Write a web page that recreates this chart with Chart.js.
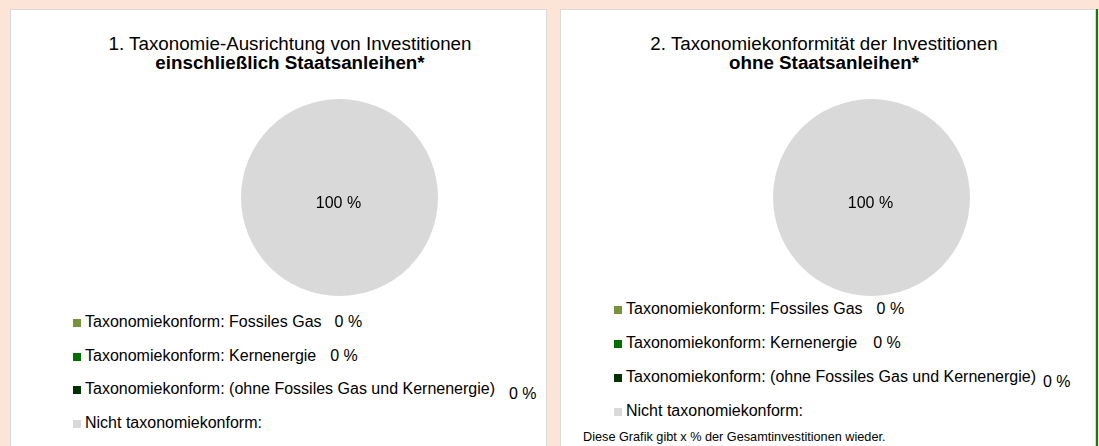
<!DOCTYPE html>
<html>
<head>
<meta charset="utf-8">
<script src="https://cdn.jsdelivr.net/npm/chart.js@4"></script>
<style>
  body { margin: 0; width: 1099px; height: 446px; background: #fce4d6; overflow: hidden; position: relative; font-family: "Liberation Sans", Arial, sans-serif; color: #000; }
  .panel { position: absolute; top: 9px; height: 460px; background: #fff; border: 1px solid #d9d9d9; }
  .title { position: absolute; width: 440px; text-align: center; font-size: 18.8px; line-height: 19px; }
  .title b { font-weight: bold; }
  .pie { position: absolute; width: 197px; height: 197px; }
  .row { position: absolute; font-size: 16px; line-height: 20px; white-space: nowrap; }
  .box { display: inline-block; width: 8px; height: 8px; margin-right: 4px; vertical-align: 0px; }
  .val { display: inline-block; }
  .note { position: absolute; font-size: 12.7px; line-height: 14px; white-space: nowrap; }
  .edge { position: absolute; left: 1096px; top: 9px; width: 2px; height: 440px; background: #137a13; }
</style>
</head>
<body>
<div class="panel" style="left:10px; width:535px;"></div>
<div class="panel" style="left:560px; width:534px;"></div>
<div class="edge"></div>

<div class="title" style="left:70px; top:34px;">1. Taxonomie-Ausrichtung von Investitionen<br><b>einschließlich Staatsanleihen*</b></div>
<div class="title" style="left:604px; top:34px;">2. Taxonomiekonformität der Investitionen<br><b>ohne Staatsanleihen*</b></div>

<canvas id="pie1" class="pie" style="left:241px; top:99px;"></canvas>
<canvas id="pie2" class="pie" style="left:773px; top:99px;"></canvas>

<div id="legend1"></div>
<div id="legend2"></div>

<div class="note" style="left:583px; top:430px;">Diese Grafik gibt x % der Gesamtinvestitionen wieder.</div>

<script>
const categories = [
  'Taxonomiekonform: Fossiles Gas',
  'Taxonomiekonform: Kernenergie',
  'Taxonomiekonform: (ohne Fossiles Gas und Kernenergie)',
  'Nicht taxonomiekonform:'
];
const withSovereigns = [0, 0, 0, 100];
const withoutSovereigns = [0, 0, 0, 100];
// the last category has no value printed in the legend
const legendShowsValue = [true, true, true, false];
const colors = ['#77933c', '#007000', '#003300', '#d9d9d9'];

function pct(v) {
  return v + ' %';
}

// writes the value into the middle of each visible slice
const sliceLabels = {
  id: 'sliceLabels',
  afterDatasetsDraw(chart) {
    const ctx = chart.ctx;
    const meta = chart.getDatasetMeta(0);
    const data = chart.data.datasets[0].data;
    ctx.save();
    ctx.font = '16px "Liberation Sans", Arial, sans-serif';
    ctx.fillStyle = '#000';
    ctx.textAlign = 'center';
    ctx.textBaseline = 'middle';
    meta.data.forEach((arc, i) => {
      if (!data[i]) return;
      let pos;
      if (arc.circumference >= Math.PI * 2 - 0.001) {
        pos = { x: arc.x, y: arc.y };
      } else {
        pos = arc.tooltipPosition();
      }
      ctx.fillText(pct(data[i]), pos.x - 1, pos.y + 6);
    });
    ctx.restore();
  }
};

function makePie(id, values) {
  return new Chart(document.getElementById(id), {
    type: 'pie',
    data: {
      labels: categories,
      datasets: [{
        data: values,
        backgroundColor: colors,
        borderWidth: 0
      }]
    },
    options: {
      responsive: false,
      animation: false,
      layout: { padding: 0 },
      plugins: {
        legend: { display: false },
        tooltip: { enabled: false }
      }
    },
    plugins: [sliceLabels]
  });
}

function makeLegend(id, values, left, top, rowGap, gaps) {
  const holder = document.getElementById(id);
  categories.forEach((name, i) => {
    const row = document.createElement('div');
    row.className = 'row';
    row.style.left = left + 'px';
    row.style.top = (top + i * rowGap) + 'px';
    let html = `<span class="box" style="background:${colors[i]}"></span>${name}`;
    if (legendShowsValue[i]) {
      // the long row has its value sitting a little lower
      const drop = i === 2 ? 5 : 0;
      html += `<span class="val" style="position:relative; top:${drop}px; margin-left:${gaps[i]}px">${pct(values[i])}</span>`;
    }
    row.innerHTML = html;
    holder.appendChild(row);
  });
}

makePie('pie1', withSovereigns);
makePie('pie2', withoutSovereigns);
makeLegend('legend1', withSovereigns, 73, 312, 33.5, [13, 14, 14]);
makeLegend('legend2', withoutSovereigns, 614, 299, 34, [14, 16, 7]);
</script>
</body>
</html>
